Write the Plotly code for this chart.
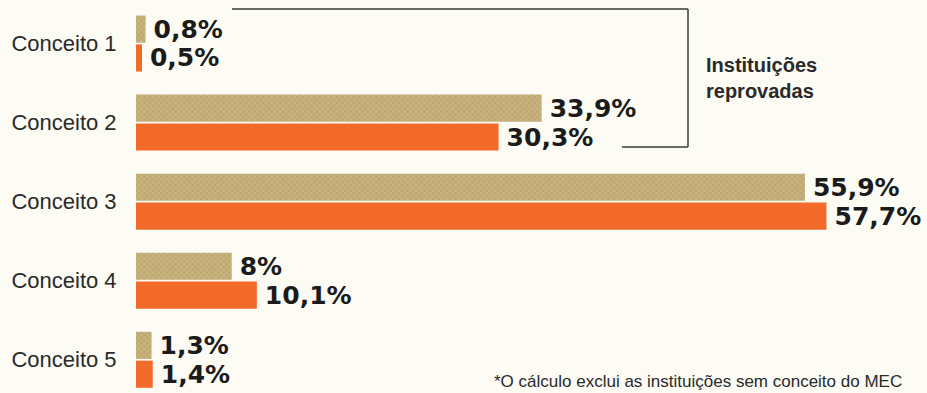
import plotly.graph_objects as go

categories = ["Conceito 1", "Conceito 2", "Conceito 3", "Conceito 4", "Conceito 5"]
serie_a = [0.8, 33.9, 55.9, 8.0, 1.3]      # khaki, textured
serie_b = [0.5, 30.3, 57.7, 10.1, 1.4]     # orange
note = "*O cálculo exclui as instituições sem conceito do MEC"
bracket_label = "Instituições<br>reprovadas"

BG = "#fcfbf4"
KHAKI = "#c8b37f"
KHAKI_DARK = "#9c8853"
ORANGE = "#f36b2a"


def fmt(v):
    return "\u2009" + f"{v:g}".replace(".", ",") + "%"


fig = go.Figure()
fig.add_trace(go.Bar(
    y=categories, x=serie_a, orientation="h", name="Série A",
    marker=dict(color=KHAKI, line=dict(width=0),
                pattern=dict(shape="x", fgcolor=KHAKI_DARK, size=4, solidity=0.3)),
    text=[fmt(v) for v in serie_a], textposition="outside", constraintext="none",
    cliponaxis=False,
    textfont=dict(family="DejaVu Sans", size=25, color="#1b1b1b", weight="bold"),
))
fig.add_trace(go.Bar(
    y=categories, x=serie_b, orientation="h", name="Série B",
    marker=dict(color=ORANGE, line=dict(width=0)),
    text=[fmt(v) for v in serie_b], textposition="outside", constraintext="none",
    cliponaxis=False,
    textfont=dict(family="DejaVu Sans", size=25, color="#1b1b1b", weight="bold"),
))

fig.update_layout(
    width=927, height=393,
    margin=dict(l=136, r=0, t=4, b=0),
    paper_bgcolor=BG, plot_bgcolor=BG,
    barmode="group", bargap=0.27, bargroupgap=0.06,
    showlegend=False,
    xaxis=dict(range=[0, 66.1], visible=False, fixedrange=True),
    yaxis=dict(categoryorder="array", categoryarray=categories,
               range=[4.42, -0.5], showgrid=False, zeroline=False, showline=False,
               ticks="outside", ticklen=14, tickcolor=BG,
               tickfont=dict(family="Liberation Sans", size=22, color="#2a2a2a")),
)

# bracket marking the failed institutions (Conceito 1 and 2)
H = 389
line = dict(color="#3a3a3a", width=1.5)
fig.add_shape(type="line", xref="paper", yref="paper", x0=(232 - 136) / 791, x1=(688 - 136) / 791,
              y0=(393 - 9) / H, y1=(393 - 9) / H, line=line)
fig.add_shape(type="line", xref="paper", yref="paper", x0=(688 - 136) / 791, x1=(688 - 136) / 791,
              y0=(393 - 9) / H, y1=(393 - 147) / H, line=line)
fig.add_shape(type="line", xref="paper", yref="paper", x0=(622 - 136) / 791, x1=(688 - 136) / 791,
              y0=(393 - 147) / H, y1=(393 - 147) / H, line=line)

fig.add_annotation(text=bracket_label, xref="paper", yref="paper",
                   x=(704 - 136) / 791, y=(393 - 78) / H, xanchor="left", yanchor="middle",
                   align="left", showarrow=False,
                   font=dict(family="Liberation Sans", size=20, color="#2a2a2a", weight="bold"))

fig.add_annotation(text=note, xref="paper", yref="paper",
                   x=(904 - 136) / 791, y=(393 - 381) / H, xanchor="right", yanchor="middle",
                   showarrow=False,
                   font=dict(family="Liberation Sans", size=17, color="#2a2a2a"))

fig.write_html("out.html")
